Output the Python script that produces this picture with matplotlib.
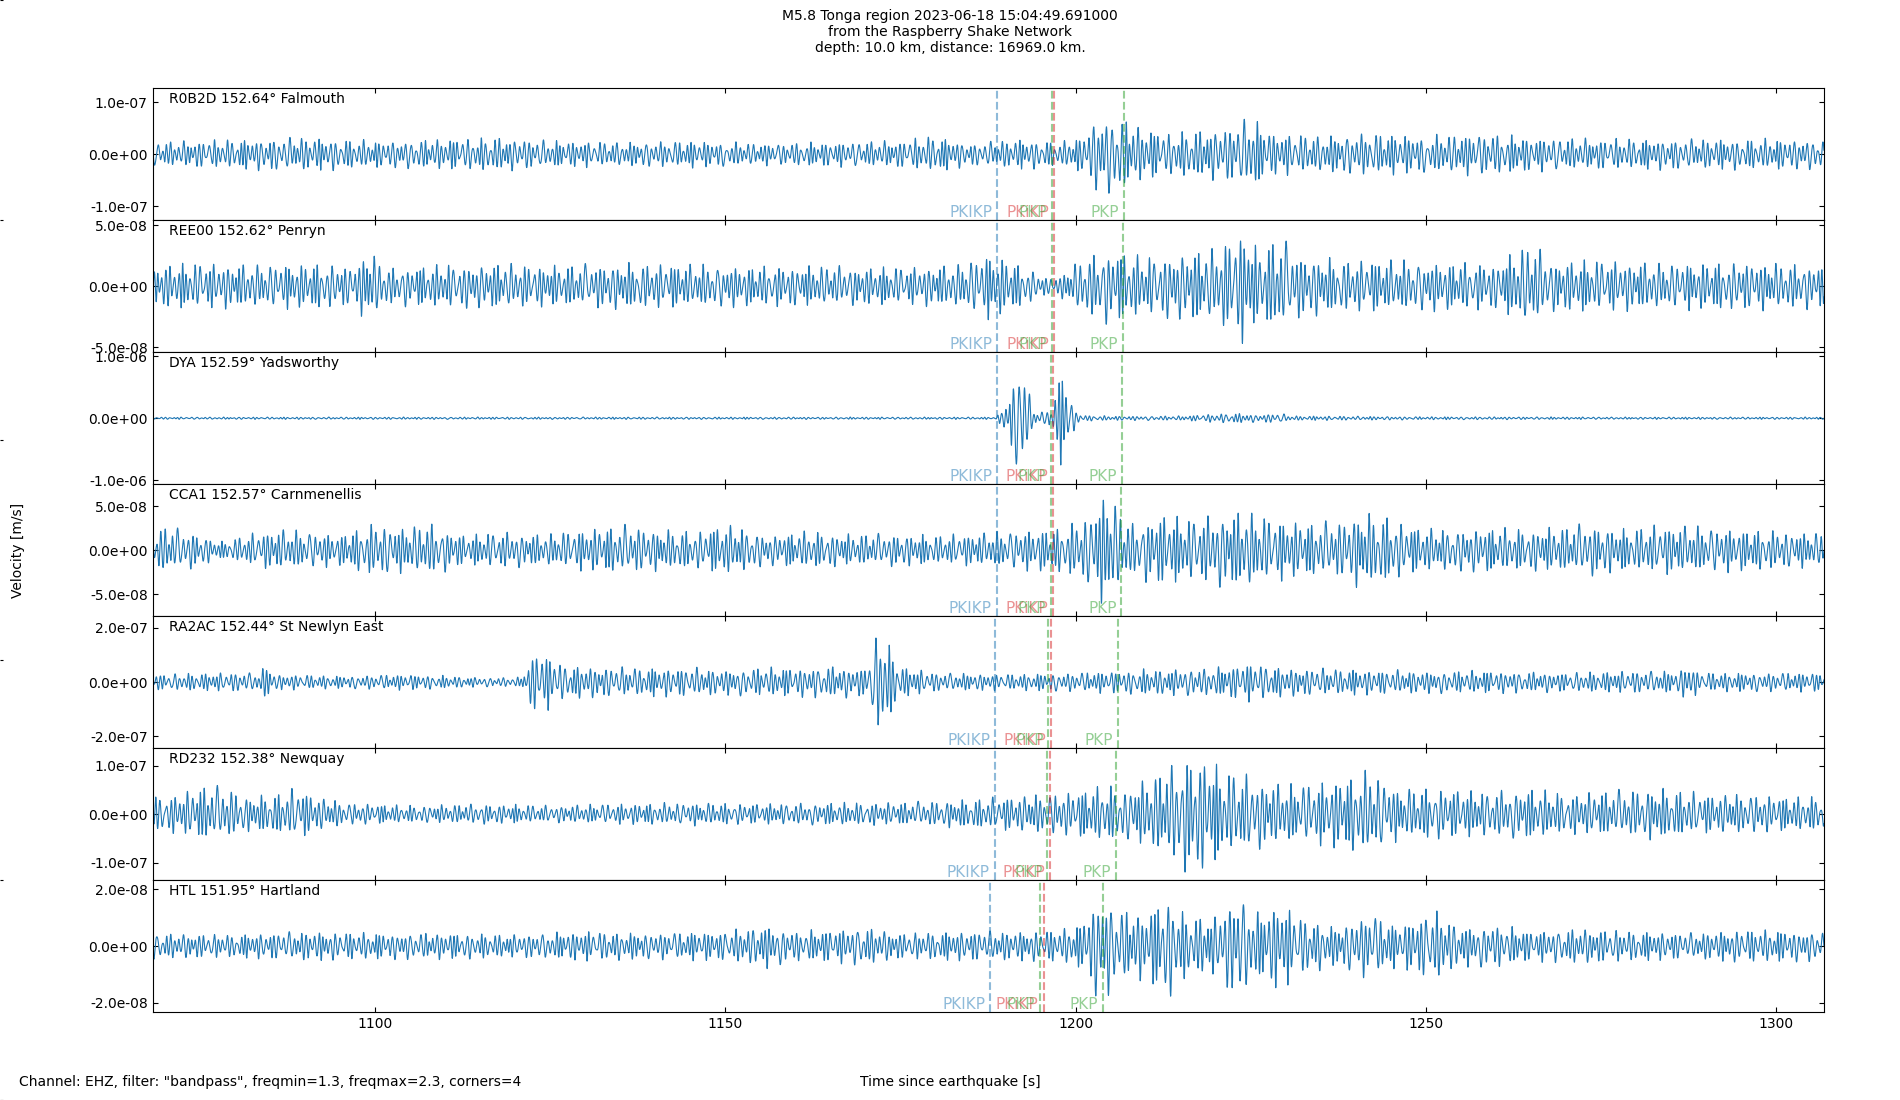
import numpy as np
import matplotlib
matplotlib.use("Agg")
import matplotlib.pyplot as plt
from matplotlib.ticker import FormatStrFormatter

# station info (top to bottom)
stations = ["R0B2D", "REE00", "DYA", "CCA1", "RA2AC", "RD232", "HTL"]
distances = [152.64, 152.62, 152.59, 152.57, 152.44, 152.38, 151.95]
places = ["Falmouth", "Penryn", "Yadsworthy", "Carnmenellis", "St Newlyn East", "Newquay", "Hartland"]
ytick_step = [1e-7, 5e-8, 1e-6, 5e-8, 2e-7, 1e-7, 2e-8]
ylims = [1.27e-7, 5.4e-8, 1.065e-6, 7.5e-8, 2.43e-7, 1.36e-7, 2.33e-8]

# predicted arrivals [s]: PKIKP, PKiKP, PKP (two branches)
t_pkikp = [1188.86, 1188.83, 1188.79, 1188.76, 1188.57, 1188.48, 1187.86]
t_pkikp2 = [1196.92, 1196.88, 1196.82, 1196.77, 1196.50, 1196.37, 1195.45]
t_pkp_a = [1196.64, 1196.59, 1196.52, 1196.47, 1196.14, 1195.99, 1194.92]
t_pkp_b = [1206.85, 1206.76, 1206.63, 1206.55, 1206.00, 1205.74, 1203.91]

# amplitude envelopes (time [s], peak amplitude)
r0b2d_t = [1068, 1075, 1082, 1090, 1100, 1110, 1118, 1125, 1135, 1145, 1155, 1165, 1175, 1180, 1185,
           1192, 1198, 1201, 1203, 1206, 1209, 1213, 1218, 1222, 1225, 1228, 1235, 1242, 1250, 1258,
           1265, 1275, 1285, 1295, 1307]
r0b2d_a = [0.2, 0.22, 0.25, 0.28, 0.22, 0.25, 0.28, 0.22, 0.2, 0.22, 0.18, 0.2, 0.22, 0.3, 0.18,
           0.25, 0.2, 0.3, 0.62, 0.65, 0.45, 0.35, 0.4, 0.45, 0.6, 0.35, 0.3, 0.35, 0.3, 0.35,
           0.28, 0.25, 0.25, 0.25, 0.25]  # x1e-7

ree00_t = [1068, 1075, 1085, 1092, 1097, 1099, 1102, 1110, 1118, 1125, 1135, 1145, 1155, 1165, 1175,
           1183, 1188, 1192, 1196, 1198, 1201, 1205, 1210, 1215, 1220, 1224, 1226, 1229, 1232, 1238,
           1245, 1252, 1260, 1265, 1268, 1275, 1285, 1295, 1307]
ree00_a = [1.5, 1.6, 1.5, 1.6, 1.4, 2.5, 1.3, 1.5, 1.6, 1.4, 1.6, 1.5, 1.4, 1.4, 1.3,
           1.5, 2.3, 1.5, 0.6, 0.8, 2.0, 2.6, 2.0, 2.4, 2.6, 4.0, 2.5, 3.4, 2.2, 1.8,
           1.8, 1.7, 1.6, 3.0, 1.8, 1.8, 1.6, 1.7, 1.5]  # x1e-8

dya_t = [1068, 1150, 1188.5, 1189.5, 1190.5, 1191.5, 1192.3, 1193.2, 1194, 1196, 1196.8, 1197.5,
         1198.3, 1199.2, 1200.2, 1201.5, 1205, 1215, 1220, 1223, 1226, 1229, 1231, 1235, 1250,
         1280, 1307]
dya_a = [0.15, 0.15, 0.15, 1.0, 3.5, 6.5, 10.5, 4.0, 1.0, 0.9, 2.5, 5.0,
         7.5, 3.0, 0.8, 0.4, 0.3, 0.3, 0.6, 0.7, 0.5, 0.7, 0.3, 0.3, 0.2,
         0.15, 0.15]  # x1e-7

cca1_t = [1068, 1070, 1074, 1078, 1082, 1086, 1090, 1095, 1100, 1104, 1108, 1113, 1118, 1124, 1130,
          1136, 1140, 1146, 1150, 1156, 1162, 1168, 1174, 1180, 1186, 1190, 1194, 1198, 1201, 1203,
          1204.5, 1206, 1208, 1212, 1216, 1220, 1224, 1228, 1233, 1238, 1240.5, 1244, 1248, 1252,
          1258, 1264, 1270, 1273, 1278, 1284, 1290, 1296, 1302, 1307]
cca1_a = [1.5, 2.3, 1.8, 0.8, 1.5, 2.0, 1.8, 1.5, 2.6, 2.2, 2.5, 1.4, 1.8, 1.5, 2.0,
          2.4, 2.0, 1.8, 2.5, 1.5, 1.8, 1.5, 1.6, 1.4, 1.6, 1.8, 2.0, 2.2, 3.0, 4.5,
          5.7, 4.0, 2.5, 3.5, 3.0, 3.5, 3.8, 3.0, 2.6, 2.8, 3.6, 3.3, 2.3, 2.0,
          2.2, 2.0, 2.2, 2.6, 2.0, 2.4, 2.2, 2.0, 1.8, 1.6]  # x1e-8

ra2ac_t = [1068, 1080, 1083.5, 1084.5, 1086, 1095, 1105, 1115, 1121, 1122.5, 1123.5, 1125, 1127,
           1130, 1137, 1145, 1150, 1155, 1160, 1165, 1170, 1171.5, 1172.3, 1173.3, 1175, 1180,
           1190, 1200, 1210, 1220, 1225, 1230, 1240, 1250, 1260, 1270, 1280, 1286, 1287.3, 1289,
           1300, 1307]
ra2ac_a = [0.25, 0.3, 0.3, 0.55, 0.25, 0.2, 0.25, 0.15, 0.15, 0.9, 1.0, 0.8, 0.55,
           0.5, 0.45, 0.45, 0.4, 0.45, 0.45, 0.5, 0.45, 1.4, 1.85, 1.2, 0.5, 0.3,
           0.25, 0.3, 0.4, 0.45, 0.6, 0.45, 0.4, 0.35, 0.35, 0.3, 0.35, 0.35, 0.6, 0.3,
           0.3, 0.3]  # x1e-7

rd232_t = [1068, 1072, 1076, 1079, 1082, 1086, 1089, 1092, 1096, 1105, 1115, 1125, 1135, 1145, 1155,
           1165, 1175, 1185, 1190, 1195, 1200, 1204, 1207, 1210, 1213, 1216, 1218.5, 1221, 1224,
           1228, 1232, 1237, 1242, 1246, 1252, 1258, 1265, 1270, 1276, 1283, 1290, 1296, 1302, 1307]
rd232_a = [0.3, 0.35, 0.5, 0.45, 0.3, 0.35, 0.45, 0.3, 0.2, 0.15, 0.18, 0.15, 0.18, 0.2, 0.18,
           0.2, 0.2, 0.25, 0.3, 0.35, 0.4, 0.5, 0.45, 0.6, 0.8, 1.05, 1.0, 0.75, 0.7,
           0.55, 0.5, 0.6, 0.75, 0.45, 0.45, 0.4, 0.45, 0.35, 0.4, 0.45, 0.35, 0.35, 0.3, 0.3]  # x1e-7

htl_t = [1068, 1080, 1090, 1100, 1110, 1120, 1130, 1140, 1150, 1156, 1160, 1166, 1169.5, 1175, 1185,
         1192, 1198, 1201, 1202.5, 1204, 1206, 1210, 1213, 1216, 1220, 1223, 1226, 1229, 1232,
         1237, 1242, 1246, 1251, 1255, 1260, 1265, 1272, 1280, 1288, 1295, 1307]
htl_a = [0.4, 0.35, 0.45, 0.4, 0.4, 0.35, 0.45, 0.4, 0.45, 0.65, 0.45, 0.5, 0.6, 0.4, 0.45,
         0.45, 0.5, 0.7, 1.4, 1.65, 1.1, 1.0, 1.6, 0.9, 0.9, 1.65, 1.0, 1.35, 0.9,
         0.6, 1.0, 0.6, 1.1, 0.6, 0.65, 0.45, 0.55, 0.45, 0.4, 0.5, 0.45]  # x1e-8

env_t = [r0b2d_t, ree00_t, dya_t, cca1_t, ra2ac_t, rd232_t, htl_t]
env_a = [r0b2d_a, ree00_a, dya_a, cca1_a, ra2ac_a, rd232_a, htl_a]
env_unit = [1e-7, 1e-8, 1e-7, 1e-8, 1e-7, 1e-7, 1e-8]

tmin, tmax = 1068.3, 1306.8
t = np.arange(tmin, tmax, 0.01)  # 100 sps


def trace(k):
    """band-limited (~1.3-2.3 Hz) wiggle scaled to the read envelope"""
    env = np.interp(t, env_t[k], env_a[k]) * env_unit[k]
    ph = (2 * np.pi * 1.6 * t + 1.5 * np.sin(2 * np.pi * 0.11 * t + k)
          + 1.0 * np.sin(2 * np.pi * 0.27 * t + 2 * k) + 0.5 * np.sin(2 * np.pi * 0.53 * t + 3 * k))
    # cycle-to-cycle amplitude variation, normalised so typical peaks sit on the envelope
    mod = (0.6 + 0.25 * np.sin(2 * np.pi * 0.47 * t + k)
           + 0.15 * np.sin(2 * np.pi * 1.13 * t + 2 * k)) / 0.8
    return env * mod * np.sin(ph)


fig, axes = plt.subplots(7, 1, sharex=True, figsize=(19, 11), dpi=100)
fig.subplots_adjust(left=0.0803, right=0.96, top=0.9197, bottom=0.08, hspace=0)

# hidden full-figure axes (leaves small marks at the left edge)
bg = fig.add_axes([0, 0, 1, 1], frameon=False, zorder=-1)
bg.set_xticks([])
bg.tick_params(axis="y", direction="in", length=2, labelleft=False)

phases = [("PKIKP", "C0", t_pkikp), ("PKiKP", "C3", t_pkikp2), ("PKP", "C2", t_pkp_a), ("PKP", "C2", t_pkp_b)]

for k, ax in enumerate(axes):
    ax.plot(t, trace(k), color="C0", lw=0.8)
    ax.set_xlim(tmin, tmax)
    ax.set_ylim(-ylims[k], ylims[k])
    ax.set_yticks([-ytick_step[k], 0, ytick_step[k]])
    ax.yaxis.set_major_formatter(FormatStrFormatter("%.1e"))
    ax.tick_params(direction="in", top=True, right=True, labelsize=10)
    ax.text(0.01, 0.97, f"{stations[k]} {distances[k]:.2f}° {places[k]}",
            transform=ax.transAxes, ha="left", va="top", fontsize=10)
    for name, col, times in phases:
        ax.axvline(times[k], color=col, ls="--", lw=1.5, alpha=0.5)
        ax.text(times[k] - 0.7, -ylims[k], name, color=col, alpha=0.5,
                ha="right", va="bottom", fontsize=11)

axes[-1].set_xticks([1100, 1150, 1200, 1250, 1300])

fig.text(0.5, 0.992, "M5.8 Tonga region 2023-06-18 15:04:49.691000\n"
         "from the Raspberry Shake Network\n"
         "depth: 10.0 km, distance: 16969.0 km.",
         ha="center", va="top", fontsize=10)
fig.text(0.006, 0.5, "Velocity [m/s]", rotation=90, ha="left", va="center", fontsize=10)
fig.text(0.5, 0.01, "Time since earthquake [s]", ha="center", va="bottom", fontsize=10)
fig.text(0.01, 0.01, 'Channel: EHZ, filter: "bandpass", freqmin=1.3, freqmax=2.3, corners=4',
         ha="left", va="bottom", fontsize=10)

fig.savefig("out.png", dpi=100)
